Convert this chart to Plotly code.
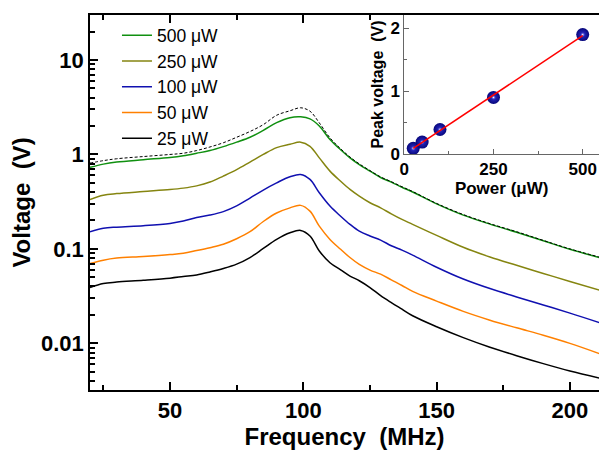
import numpy as np
import plotly.graph_objects as go

# Resonance spectra at five drive powers (frequency in MHz, voltage in V)
freq = [20, 25, 30, 40, 50, 55, 60, 65, 70, 75, 80, 85, 90, 95, 99, 102.5, 106,
        110, 114, 117.5, 121, 125, 129, 133, 137, 141, 150, 160, 170, 180, 190, 200, 211]

v500 = [0.73, 0.79, 0.83, 0.88, 0.93, 0.97, 1.03, 1.10, 1.21, 1.35, 1.52, 1.80, 2.17,
        2.45, 2.50, 2.38, 2.00, 1.44, 1.12, 0.92, 0.78, 0.666, 0.57, 0.51, 0.45, 0.40,
        0.30, 0.228, 0.183, 0.150, 0.122, 0.099, 0.081]
v500_ref = [0.81, 0.86, 0.90, 0.95, 1.00, 1.03, 1.10, 1.20, 1.33, 1.52, 1.75, 2.07, 2.60,
            2.90, 3.12, 2.87, 2.16, 1.50, 1.15, 0.94, 0.795, 0.675, 0.578, 0.515, 0.455,
            0.405, 0.303, 0.231, 0.185, 0.152, 0.123, 0.100, 0.082]
v250 = [0.334, 0.37, 0.385, 0.405, 0.425, 0.44, 0.465, 0.51, 0.59, 0.69, 0.83, 1.0, 1.18,
        1.28, 1.35, 1.22, 0.92, 0.666, 0.52, 0.426, 0.362, 0.308, 0.272, 0.235, 0.205,
        0.182, 0.139, 0.104, 0.082, 0.067, 0.055, 0.0452, 0.0367]
v100 = [0.152, 0.165, 0.17, 0.176, 0.186, 0.197, 0.215, 0.228, 0.248, 0.285, 0.345, 0.42,
        0.50, 0.58, 0.614, 0.544, 0.393, 0.284, 0.222, 0.182, 0.154, 0.137, 0.124, 0.108,
        0.097, 0.086, 0.064, 0.048, 0.0380, 0.031, 0.0255, 0.0209, 0.0166]
v50 = [0.07, 0.076, 0.08, 0.083, 0.087, 0.09, 0.096, 0.103, 0.112, 0.128, 0.152, 0.195,
       0.24, 0.272, 0.289, 0.251, 0.174, 0.126, 0.099, 0.081, 0.0685, 0.0597, 0.054, 0.047,
       0.041, 0.0355, 0.028, 0.0218, 0.0176, 0.0146, 0.0122, 0.0100, 0.0078]
v25 = [0.039, 0.043, 0.0445, 0.0465, 0.049, 0.051, 0.053, 0.057, 0.062, 0.069, 0.081, 0.101,
       0.126, 0.148, 0.157, 0.137, 0.095, 0.0714, 0.060, 0.0516, 0.046, 0.039, 0.032, 0.027,
       0.023, 0.0196, 0.0150, 0.0115, 0.0091, 0.0074, 0.0061, 0.0051, 0.0043]

series_labels = ["500 μW", "250 μW", "100 μW", "50 μW", "25 μW"]
series_values = [v500, v250, v100, v50, v25]
series_colors = ["#109010", "#858510", "#1010b0", "#ff8000", "#000000"]

# Peak voltage versus drive power (inset)
power = [25, 50, 100, 250, 500]
peak_v = [0.09, 0.19, 0.39, 0.90, 1.90]

x_ticks = [50, 100, 150, 200]
x_minor = [25, 75, 125, 175]
y_ticks = [0.01, 0.1, 1, 10]
y_ticktext = ["0.01", "0.1", "1", "10"]
y_minor = [m * 10.0 ** e for e in range(-3, 2) for m in range(2, 10)]

FONT = "Arial, Liberation Sans, sans-serif"

fig = go.Figure()

for label, vals, color in zip(series_labels, series_values, series_colors):
    fig.add_trace(go.Scatter(x=freq, y=vals, mode="lines", name=label,
                             line=dict(color=color, width=1.5, shape="spline", smoothing=1.0)))

fig.add_trace(go.Scatter(x=freq, y=v500_ref, mode="lines", showlegend=False,
                         line=dict(color="#000000", width=1, dash="3px,2px",
                                   shape="spline", smoothing=1.0)))

# Inset: shaded spheres with a bright centre, then the linear fit on top
fig.add_trace(go.Scatter(x=power, y=peak_v, mode="markers", xaxis="x2", yaxis="y2",
                         showlegend=False,
                         marker=dict(size=13, color="#06067a",
                                     gradient=dict(type="radial", color="#3030d0"),
                                     line=dict(width=0))))
fig.add_trace(go.Scatter(x=power, y=peak_v, mode="markers", xaxis="x2", yaxis="y2",
                         showlegend=False,
                         marker=dict(size=5, color="rgba(60,60,220,0)",
                                     gradient=dict(type="radial", color="#ffffff"),
                                     line=dict(width=0))))
slope, intercept = np.polyfit(power, peak_v, 1)
fit_x = [min(power), max(power)]
fit_y = [slope * p + intercept for p in fit_x]
fig.add_trace(go.Scatter(x=fit_x, y=fit_y, mode="lines", xaxis="x2", yaxis="y2",
                         showlegend=False, line=dict(color="#ff0000", width=1.5)))

tick_font = dict(family=FONT, size=22, color="black", weight="bold")
inset_font = dict(family=FONT, size=17, color="black", weight="bold")

fig.update_layout(
    width=599, height=450,
    margin=dict(l=90, r=0, t=15, b=60),
    paper_bgcolor="white", plot_bgcolor="white",
    font=dict(family=FONT, color="black"),
    legend=dict(x=0.053, y=0.994, xanchor="left", yanchor="top",
                bgcolor="rgba(0,0,0,0)", font=dict(family=FONT, size=17.5, color="black"),
                tracegroupgap=0, itemwidth=30),
    xaxis=dict(range=[20, 210.9], showline=True, linecolor="black", linewidth=1.5,
               mirror="allticks", ticks="inside", ticklen=8, tickwidth=1.5,
               tickcolor="black", tickvals=x_ticks, tickfont=tick_font,
               minor=dict(tickvals=x_minor, ticks="inside", ticklen=5, tickwidth=1.5,
                          tickcolor="black"),
               showgrid=False, zeroline=False,
               title=dict(text="Frequency  (MHz)", font=dict(family=FONT, size=24,
                                                            color="black", weight="bold"),
                          standoff=2)),
    yaxis=dict(type="log", range=[-2.494, 1.4765], showline=True, linecolor="black",
               linewidth=1.5, ticks="inside", ticklen=8, tickwidth=1.5, tickcolor="black",
               tickvals=y_ticks, ticktext=y_ticktext, tickfont=tick_font,
               minor=dict(tickvals=y_minor, ticks="inside", ticklen=5, tickwidth=1.5,
                          tickcolor="black"),
               showgrid=False, zeroline=False,
               title=dict(text="Voltage  (V)", font=dict(family=FONT, size=24,
                                                        color="black", weight="bold"),
                          standoff=4)),
    xaxis2=dict(domain=[0.6175, 1.0], anchor="y2", range=[0, 545.7], showline=True,
                linecolor="#666666", linewidth=1, ticks="inside", ticklen=5, tickwidth=1,
                tickcolor="#666666", tickvals=[0, 250, 500], tickfont=inset_font,
                minor=dict(tickvals=[125, 375], ticks="inside", ticklen=3, tickwidth=1,
                           tickcolor="#666666"),
                showgrid=False, zeroline=False,
                title=dict(text="Power (μW)", font=dict(family=FONT, size=17,
                                                        color="black", weight="bold"),
                           standoff=0)),
    yaxis2=dict(domain=[0.6293, 1.0], anchor="x2", range=[0, 2.212], showline=True,
                linecolor="#666666", linewidth=1, ticks="inside", ticklen=5, tickwidth=1,
                tickcolor="#666666", tickvals=[0, 1, 2], tickfont=inset_font,
                minor=dict(tickvals=[0.5, 1.5], ticks="inside", ticklen=3, tickwidth=1,
                           tickcolor="#666666"),
                showgrid=False, zeroline=False,
                title=dict(text="Peak voltage  (V)", font=dict(family=FONT, size=16,
                                                              color="black", weight="bold"),
                           standoff=2)),
)

fig.write_html("out.html")
